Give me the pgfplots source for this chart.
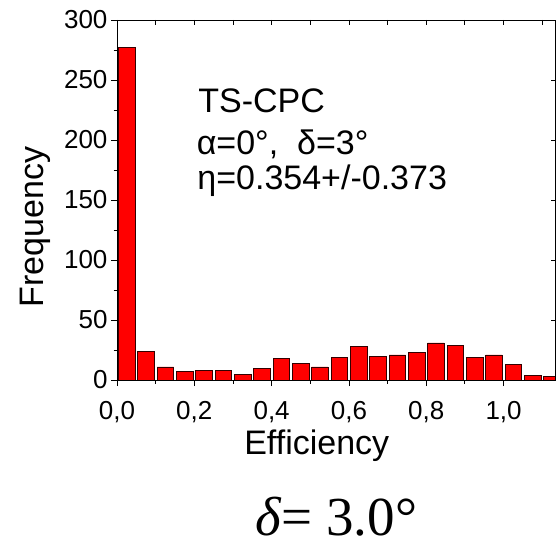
\documentclass[border=0pt]{standalone}
\usepackage{pgfplots}
\pgfplotsset{compat=1.18}
\usepackage{fontspec}
\setmainfont{Liberation Sans}
\newfontfamily\timesf{Liberation Serif}

\begin{document}
\begin{tikzpicture}
\useasboundingbox (-117pt,-164pt) rectangle (439pt,380pt);
\begin{axis}[
  at={(0pt,0pt)}, anchor=south west,
  scale only axis, width=438pt, height=360pt,
  xmin=0, xmax=1.133, ymin=0, ymax=300,
  axis line style={line width=0.9pt},
  xtick={0,0.2,0.4,0.6,0.8,1.0}, minor x tick num=1,
  ytick={0,50,100,150,200,250,300}, minor y tick num=1,
  xtick pos=bottom, ytick pos=left,
  tick align=outside,
  major tick length=6pt, minor tick length=3.5pt,
  tick style={line width=0.9pt, black},
  /pgf/number format/assume math mode=true,
  tick label style={font=\fontsize{26}{30}\selectfont},
  xticklabel style={yshift=-12pt, /pgf/number format/.cd, fixed, fixed zerofill, precision=1, use comma},
  xlabel={Efficiency}, ylabel={Frequency},
  label style={font=\fontsize{34}{40}\selectfont},
  xlabel style={at={(axis description cs:0.456,-0.2069)}, anchor=base, inner sep=0pt},
  ylabel style={at={(axis description cs:-0.1683,0.425)}, anchor=base, inner sep=0pt},
  clip mode=individual,
]
\addplot[ybar, bar width=16.5pt, bar shift=0pt, fill=red, draw=black!80!red, line width=0.6pt]
coordinates {
(0.025,277) (0.075,24) (0.125,11) (0.175,7) (0.225,8) (0.275,8)
(0.325,5) (0.375,10) (0.425,18) (0.475,14) (0.525,11) (0.575,19)
(0.625,28) (0.675,20) (0.725,21) (0.775,23) (0.825,31) (0.875,29)
(0.925,19) (0.975,21) (1.025,13) (1.075,4) (1.125,3)
};
\node[anchor=base west, inner sep=0pt, font=\fontsize{34}{40}\selectfont] at (axis cs:0.21,222.7) {TS-CPC};
\node[anchor=base west, inner sep=0pt, font=\fontsize{34}{40}\selectfont] at (axis cs:0.206,188) {α=0°,\ \ δ=3°};
\node[anchor=base west, inner sep=0pt, font=\fontsize{34}{40}\selectfont] at (axis cs:0.2075,159) {η=0.354+/-0.373};
\end{axis}
\begin{axis}[
  at={(0pt,0pt)}, anchor=south west,
  scale only axis, width=438pt, height=360pt,
  xmin=0, xmax=1.133, ymin=0, ymax=300,
  axis line style={line width=0.9pt},
  xtick={0,0.1,0.2,0.3,0.4,0.5,0.6,0.7,0.8,0.9,1.0,1.1},
  ytick={0,50,100,150,200,250,300},
  xtick pos=top, ytick pos=right,
  tick align=inside,
  major tick length=4.5pt,
  tick style={line width=0.9pt, black},
  xticklabels={}, yticklabels={},
]
\end{axis}
\node[anchor=base west, inner sep=0pt, text depth=0pt, font=\timesf\fontsize{55}{60}\selectfont] at (138pt,-155pt) {\textit{δ}= 3.0°};
\end{tikzpicture}
\end{document}
